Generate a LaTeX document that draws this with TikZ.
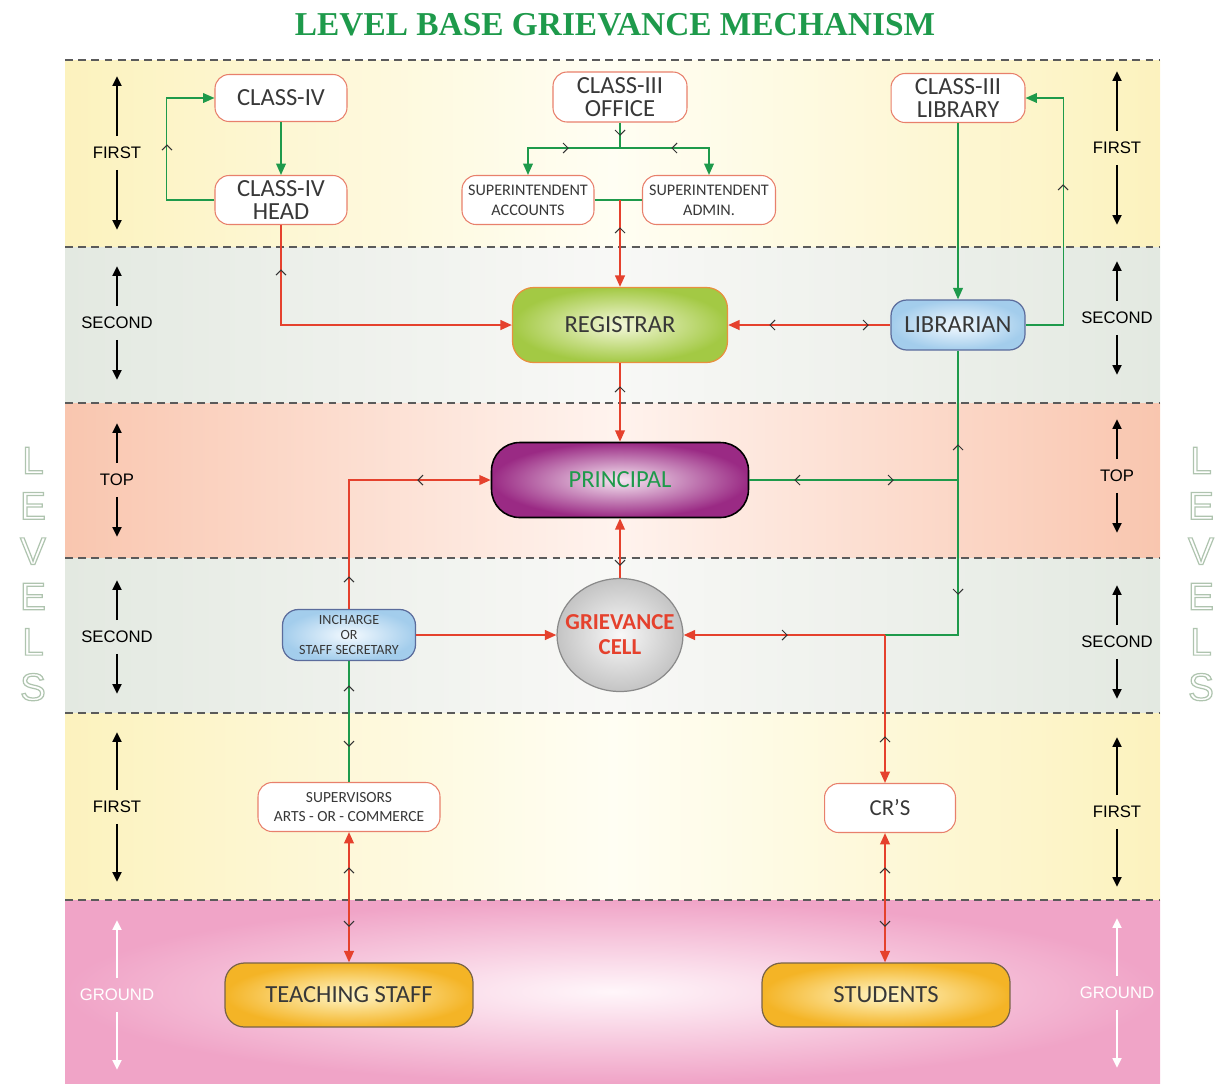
\documentclass[tikz,border=0pt]{standalone}
\usepackage{fontspec}
\setmainfont{Carlito}
\newfontfamily\levelfont{Liberation Sans}
\newfontfamily\headfont{Liberation Serif}
\usetikzlibrary{arrows.meta,shapes.geometric}

\definecolor{linered}{HTML}{E5412D}
\definecolor{linegreen}{HTML}{1E9A4B}
\definecolor{boxred}{HTML}{E8806C}
\definecolor{txtgray}{HTML}{383838}
\definecolor{chevgray}{HTML}{333333}
\definecolor{sepgray}{HTML}{5A5A5A}
\definecolor{bandyel}{HTML}{FCF2BE}
\definecolor{bandyelmid}{HTML}{FFFEF3}
\definecolor{bandgry}{HTML}{E3E9E1}
\definecolor{bandgrymid}{HTML}{F8F8F6}
\definecolor{bandsal}{HTML}{F9C6AF}
\definecolor{bandsalmid}{HTML}{FFF3EE}
\definecolor{bandpnk}{HTML}{F0A4C7}
\definecolor{bandpnkmid}{HTML}{FFF6FA}
\definecolor{regdark}{HTML}{A3C944}
\definecolor{reglight}{HTML}{F4F8DA}
\definecolor{regborder}{HTML}{E8903E}
\definecolor{bluedark}{HTML}{A3CDEC}
\definecolor{bluelight}{HTML}{F4FAFF}
\definecolor{blueborder}{HTML}{5B6C9C}
\definecolor{prindark}{HTML}{9A2A84}
\definecolor{prinlight}{HTML}{F5E6F1}
\definecolor{celldark}{HTML}{C4C4C4}
\definecolor{celllight}{HTML}{F8F8F8}
\definecolor{cellborder}{HTML}{8A8A8A}
\definecolor{gnddark}{HTML}{F4B426}
\definecolor{gndlight}{HTML}{FFF6C8}
\definecolor{gndborder}{HTML}{7A6448}
\definecolor{lvlgreen}{HTML}{AFC4AF}

\tikzset{
    sepline/.style={draw=sepgray, line width=0.8pt, dash pattern=on 4.5pt off 3pt},
    rline/.style={draw=linered, line width=1.1pt},
    gline/.style={draw=linegreen, line width=0.9pt},
    chevline/.style={draw=chevgray, line width=0.6pt},
    chev/.pic={\draw[chevline] (-5,-5) -- (0,0) -- (-5,5);},
    lvltext/.style={font=\levelfont\fontsize{9.5}{9.5}\selectfont, inner xsep=0pt, inner ysep=6pt},
    lvlarrow/.style={line width=1.3pt, -{Triangle[length=5.5pt,width=5pt]}},
    whitebox/.style={draw=boxred, fill=white, line width=0.6pt, rounded corners=8pt,
        align=center, inner sep=1pt, text=txtgray, font=\fontsize{14}{13.5}\selectfont},
    smalltext/.style={font=\fontsize{9.2}{11.3}\selectfont},
    supvtext/.style={font=\fontsize{8.8}{10.8}\selectfont},
    regbox/.style={draw=regborder, line width=0.7pt, rounded corners=12pt,
        inner color=reglight, outer color=regdark, text=txtgray, font=\fontsize{14}{14}\selectfont},
    bluebox/.style={draw=blueborder, line width=0.7pt, rounded corners=9pt, align=center, inner sep=1pt,
        inner color=bluelight, outer color=bluedark, text=txtgray, font=\fontsize{14}{14}\selectfont},
    prinbox/.style={draw=black, line width=0.9pt, rounded corners=16pt,
        inner color=prinlight, outer color=prindark, text=linegreen, font=\fontsize{14}{14}\selectfont},
    cellbox/.style={ellipse, draw=cellborder, line width=0.7pt, align=center, inner sep=0pt,
        inner color=celllight, outer color=celldark, text=linered, font=\bfseries\fontsize{13}{14.2}\selectfont},
    groundbox/.style={draw=gndborder, line width=0.7pt, rounded corners=11pt,
        inner color=gndlight, outer color=gnddark, text=txtgray, font=\fontsize{14}{14}\selectfont,
        minimum width=4.96cm, minimum height=1.28cm},
    levelstext/.style={align=center, text=lvlgreen, font=\levelfont\fontsize{22}{25.8}\selectfont,
        execute at begin node={\special{pdf:literal direct 1 Tr 0.7 w}},
        execute at end node={\special{pdf:literal direct 0 Tr}}},
    titletext/.style={text=linegreen, font=\headfont\bfseries\fontsize{19}{19}\selectfont}
}

\begin{document}
\begin{tikzpicture}[x=0.02cm, y=-0.02cm, >={Triangle[length=6.5pt,width=5.5pt]}]
    \useasboundingbox (0,0) rectangle (1229,1083);

    \shade[left color=bandyel, right color=bandyel, middle color=bandyelmid] (65,60) rectangle (1160,247);
    \shade[left color=bandgry, right color=bandgry, middle color=bandgrymid] (65,247) rectangle (1160,403);
    \shade[left color=bandsal, right color=bandsal, middle color=bandsalmid] (65,403) rectangle (1160,558);
    \shade[left color=bandgry, right color=bandgry, middle color=bandgrymid] (65,558) rectangle (1160,713);
    \shade[left color=bandyel, right color=bandyel, middle color=bandyelmid] (65,713) rectangle (1160,900);
    \shade[inner color=bandpnkmid, outer color=bandpnk] (65,900) rectangle (1160,1083);

    \foreach \yy in {60,247,403,558,713,900}
        \draw[sepline] (65,\yy) -- (1160,\yy);

    \node[titletext] (ttl) at (615,25) {LEVEL BASE GRIEVANCE MECHANISM};

    \node[levelstext] (lvl1) at (33,574) {L\\E\\V\\E\\L\\S};
    \node[levelstext] (lvl2) at (1201,574) {L\\E\\V\\E\\L\\S};

    \foreach \nm/\px/\py/\len/\txt/\col in {lf1/117/153/60/FIRST/black, ls1/117/323/40/SECOND/black,
            lt/117/480/40/TOP/black, ls2/117/637/40/SECOND/black, lf2/117/807/58/FIRST/black,
            lg/117/995/58/GROUND/white, rf1/1117/148/60/FIRST/black, rs1/1117/318/40/SECOND/black,
            rt/1117/476/40/TOP/black, rs2/1117/642/40/SECOND/black, rf2/1117/812/58/FIRST/black,
            rg/1117/993/58/GROUND/white} {
        \node[lvltext, text=\col] (\nm) at (\px,\py) {\txt};
        \draw[lvlarrow, color=\col] (\nm.north) -- ++(0,-\len);
        \draw[lvlarrow, color=\col] (\nm.south) -- ++(0,\len);
    }

    \node[whitebox, minimum width=2.64cm, minimum height=0.94cm] (cls4) at (281,98) {CLASS-IV};
    \node[whitebox, minimum width=2.64cm, minimum height=0.98cm] (cls4h) at (281,200) {CLASS-IV\\HEAD};
    \node[whitebox, minimum width=2.68cm, minimum height=1.0cm] (office) at (620,97) {CLASS-III\\OFFICE};
    \node[whitebox, smalltext, minimum width=2.64cm, minimum height=0.98cm] (supacc) at (528,200) {SUPERINTENDENT\\ACCOUNTS};
    \node[whitebox, smalltext, minimum width=2.66cm, minimum height=0.98cm] (supadm) at (709,200) {SUPERINTENDENT\\ADMIN.};
    \node[whitebox, minimum width=2.68cm, minimum height=0.98cm] (lib3) at (958,98) {CLASS-III\\LIBRARY};
    \node[regbox, minimum width=4.3cm, minimum height=1.5cm] (reg) at (620,325) {REGISTRAR};
    \node[bluebox, minimum width=2.68cm, minimum height=1.0cm] (libn) at (958,325) {LIBRARIAN};
    \node[prinbox, minimum width=5.14cm, minimum height=1.5cm] (prin) at (620,480) {PRINCIPAL};
    \node[cellbox, minimum width=2.52cm, minimum height=2.26cm] (gcell) at (620,635) {\makebox[0pt]{GRIEVANCE}\\\makebox[0pt]{CELL}};
    \node[bluebox, font=\fontsize{8}{8.8}\selectfont, minimum width=2.66cm, minimum height=1.02cm] (inch) at (349,635) {INCHARGE\\OR\\STAFF SECRETARY};
    \node[whitebox, supvtext, minimum width=3.64cm, minimum height=0.98cm] (supv) at (349,807) {SUPERVISORS\\ARTS - OR - COMMERCE};
    \node[whitebox, font=\fontsize{13}{13}\selectfont, minimum width=2.62cm, minimum height=0.98cm] (crs) at (890,808) {CR’S};
    \node[groundbox] (tstaff) at (349,995) {TEACHING STAFF};
    \node[groundbox] (stud) at (886,995) {STUDENTS};

    \coordinate (split) at (620,148);
    \coordinate (supj) at (620,200);
    \coordinate (ljn) at (958,480);
    \coordinate (lcr) at (958,635);
    \coordinate (crj) at (885,635);

    \draw[gline, ->] (cls4h.west) -- ++(-48,0) |- (cls4.west);
    \draw[gline, ->] (cls4.south) -- (cls4h.north);

    \draw[gline] (office.south) -- (split);
    \draw[gline, ->] (split) -| (supacc.north);
    \draw[gline, ->] (split) -| (supadm.north);
    \draw[gline] (supacc.east) -- (supadm.west);
    \draw[rline, ->] (supj) -- (reg.north);

    \draw[rline, ->] (cls4h.south) |- (reg.west);
    \draw[rline, ->] (libn.west) -- (reg.east);
    \draw[gline, ->] (lib3.south) -- (libn.north);
    \draw[gline, ->] (libn.east) -- ++(38,0) |- (lib3.east);
    \draw[rline, ->] (reg.south) -- (prin.north);

    \draw[gline] (libn.south) -- (lcr) -- (crj);
    \draw[gline] (prin.east) -- (ljn);
    \draw[rline, ->] (crj) -- (gcell.east);
    \draw[rline, ->] (crj) -- (crj |- crs.north);
    \draw[rline, ->] (gcell.north) -- (prin.south);
    \draw[rline, ->] (inch.north) |- (prin.west);
    \draw[rline, ->] (inch.east) -- (gcell.west);

    \draw[gline] (supv.north) -- (inch.south);
    \draw[rline, <->] (tstaff.north) -- (supv.south);
    \draw[rline, <->] (crj |- stud.north) -- (crj |- crs.south);

    \foreach \cx/\cy/\rot in {167/145/90, 620/135/-90, 568/148/0, 672/148/180, 620/228/90,
            281/270/90, 770/325/180, 868/325/0, 1063/185/90, 620/387/90, 958/445/90,
            958/594/-90, 795/480/180, 893/480/0, 787/635/0, 885/737/90, 620/565/-90,
            349/577/90, 418/480/180, 349/686/90, 349/746/-90, 349/868/90, 349/926/-90,
            885/868/90, 885/926/-90}
        \pic[rotate=\rot] at (\cx,\cy) {chev};
\end{tikzpicture}
\end{document}
